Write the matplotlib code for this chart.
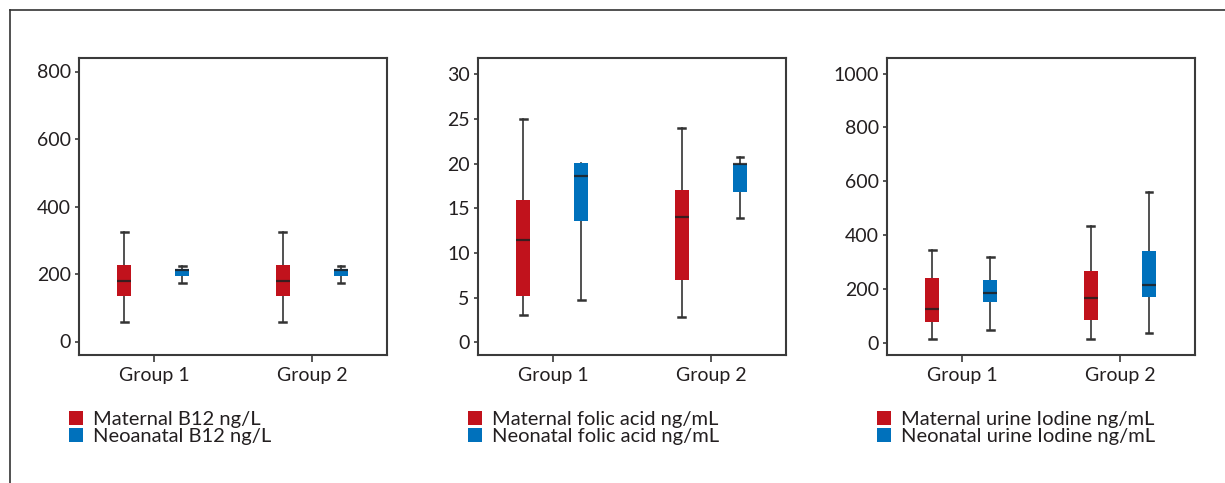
import matplotlib.pyplot as plt
from matplotlib.patches import Patch
from matplotlib.lines import Line2D

plt.rcParams['font.family'] = ['Lato', 'DejaVu Sans']

RED = '#c1121c'
BLUE = '#0071bc'
INK = '#231f20'

groups = ['Group 1', 'Group 2']

# five-number summaries per group: (low whisker, Q1, median, Q3, high whisker)
b12_maternal = [(57, 136, 178, 226, 323), (57, 136, 178, 226, 323)]
b12_neonatal = [(172, 193, 211, 215, 224), (172, 193, 211, 215, 224)]
folic_maternal = [(3.1, 5.2, 11.5, 15.9, 25.0), (2.9, 7.0, 14.0, 17.0, 24.0)]
folic_neonatal = [(4.7, 13.6, 18.6, 20.1, 20.0), (13.9, 16.8, 20.0, 20.0, 20.7)]
iodine_maternal = [(14, 76, 124, 241, 343), (14, 83, 165, 265, 434)]
iodine_neonatal = [(48, 150, 183, 231, 318), (37, 169, 215, 342, 561)]

panels = [
    dict(maternal=b12_maternal, neonatal=b12_neonatal,
         labels=['Maternal B12 ng/L', 'Neoanatal B12 ng/L'],
         ticks=[0, 200, 400, 600, 800], ylim=(-40, 840)),
    dict(maternal=folic_maternal, neonatal=folic_neonatal,
         labels=['Maternal folic acid ng/mL', 'Neonatal folic acid ng/mL'],
         ticks=[0, 5, 10, 15, 20, 25, 30], ylim=(-1.4, 31.8)),
    dict(maternal=iodine_maternal, neonatal=iodine_neonatal,
         labels=['Maternal urine Iodine ng/mL', 'Neonatal urine Iodine ng/mL'],
         ticks=[0, 200, 400, 600, 800, 1000], ylim=(-46, 1058)),
]


def to_stats(rows):
    return [dict(whislo=r[0], q1=r[1], med=r[2], q3=r[3], whishi=r[4], fliers=[])
            for r in rows]


def draw_boxes(ax, rows, positions, color):
    ax.bxp(to_stats(rows), positions=positions, widths=0.088, capwidths=0.042,
           patch_artist=True, showfliers=False,
           boxprops=dict(facecolor=color, edgecolor=color, linewidth=0, zorder=3),
           medianprops=dict(color=INK, linewidth=1.6, alpha=0.85, zorder=4),
           whiskerprops=dict(color='#333333', linewidth=1.2, zorder=2),
           capprops=dict(color='#333333', linewidth=1.8, zorder=2))


fig = plt.figure(figsize=(12.25, 4.83), dpi=100)
lefts = [79, 478, 887]
for left, p in zip(lefts, panels):
    ax = fig.add_axes([left / 1225, 128 / 483, 308 / 1225, 297 / 483])
    x = [1, 2]
    draw_boxes(ax, p['maternal'], [i - 0.187 for i in x], RED)
    draw_boxes(ax, p['neonatal'], [i + 0.18 for i in x], BLUE)
    ax.set_xlim(0.528, 2.47)
    ax.set_ylim(*p['ylim'])
    ax.set_yticks(p['ticks'])
    ax.set_xticks(x)
    ax.set_xticklabels(groups)
    for s in ax.spines.values():
        s.set_color('#3a3a3a')
        s.set_linewidth(1.5)
    ax.tick_params(axis='both', colors='#3a3a3a', labelcolor=INK, labelsize=14,
                   width=1.2)
    ax.tick_params(axis='y', length=3, pad=3)
    ax.tick_params(axis='x', length=5, pad=4)

    handles = [Patch(facecolor=RED, edgecolor='none'),
               Patch(facecolor=BLUE, edgecolor='none')]
    ax.legend(handles, p['labels'], loc='upper left', frameon=False,
              bbox_to_anchor=((left - 10) / 1225, 1 - 411 / 483),
              bbox_transform=fig.transFigure, fontsize=14.5, labelcolor=INK,
              handlelength=0.68, handleheight=0.68, handletextpad=0.5,
              labelspacing=0.02, borderpad=0, borderaxespad=0)

# outer frame around the panels
fig.add_artist(Line2D([10 / 1225, 10 / 1225], [0, 1 - 10 / 483],
                      transform=fig.transFigure, color='#333333', linewidth=1.2))
fig.add_artist(Line2D([10 / 1225, 1], [1 - 10 / 483, 1 - 10 / 483],
                      transform=fig.transFigure, color='#333333', linewidth=1.2))

fig.savefig('out.png', dpi=100)
